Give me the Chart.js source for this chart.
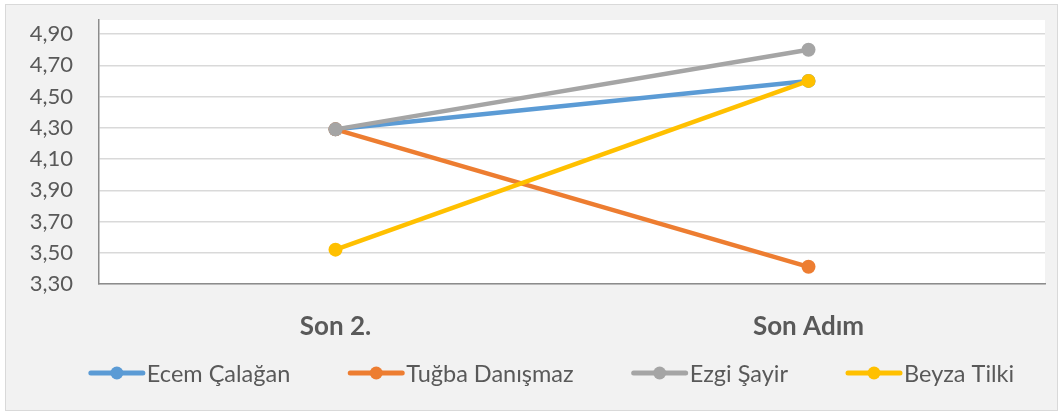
<!DOCTYPE html>
<html>
<head>
<meta charset="utf-8">
<script src="https://cdn.jsdelivr.net/npm/chart.js@4"></script>
<style>
  html, body { margin: 0; padding: 0; background: #fff; }
  #wrap { width: 1059px; height: 414px; }
</style>
</head>
<body>
<div id="wrap"><canvas id="c" width="1059" height="414"></canvas></div>
<script>
// data
const categories = ['Son 2.', 'Son Adım'];
const seriesNames = ['Ecem Çalağan', 'Tuğba Danışmaz', 'Ezgi Şayir', 'Beyza Tilki'];
const ecem = [4.29, 4.60];
const tugba = [4.29, 3.41];
const ezgi = [4.29, 4.80];
const beyza = [3.52, 4.60];
const yTicks = [3.30, 3.50, 3.70, 3.90, 4.10, 4.30, 4.50, 4.70, 4.90];

const colors = ['#5B9BD5', '#ED7D31', '#A5A5A5', '#FFC000'];
const values = [ecem, tugba, ezgi, beyza];
const textColor = '#595959';

// background frame + white plot area
const backdrop = {
  id: 'backdrop',
  beforeDraw(chart) {
    const ctx = chart.ctx;
    const a = chart.chartArea;
    ctx.save();
    ctx.fillStyle = '#ffffff';
    ctx.fillRect(0, 0, chart.width, chart.height);
    ctx.fillStyle = '#f2f2f2';
    ctx.strokeStyle = '#d9d9d9';
    ctx.lineWidth = 1;
    ctx.fillRect(5.5, 4.5, 1052, 406);
    ctx.strokeRect(5.5, 4.5, 1052, 406);
    ctx.fillStyle = '#ffffff';
    ctx.fillRect(a.left, a.top, a.right - a.left, a.bottom - a.top);
    ctx.restore();
  }
};

// excel style legend: line with a dot, then the name
const excelLegend = {
  id: 'excelLegend',
  afterDraw(chart) {
    const ctx = chart.ctx;
    ctx.save();
    ctx.font = '23.5px Lato';
    const markW = 56, gapText = 2, gapItem = 58, cy = 373;
    const widths = seriesNames.map((n) => ctx.measureText(n).width);
    const total = widths.reduce((s, w) => s + markW + gapText + w, 0) + gapItem * (seriesNames.length - 1);
    let x = 551.5 - total / 2;
    seriesNames.forEach((name, i) => {
      ctx.strokeStyle = colors[i];
      ctx.lineWidth = 5;
      ctx.lineCap = 'round';
      ctx.beginPath();
      ctx.moveTo(x + 2, cy);
      ctx.lineTo(x + markW - 2, cy);
      ctx.stroke();
      ctx.fillStyle = colors[i];
      ctx.beginPath();
      ctx.arc(x + markW / 2, cy, 6.5, 0, Math.PI * 2);
      ctx.fill();
      ctx.fillStyle = textColor;
      ctx.textBaseline = 'middle';
      ctx.textAlign = 'left';
      ctx.fillText(name, x + markW + gapText, cy + 1);
      x += markW + gapText + widths[i] + gapItem;
    });
    ctx.restore();
  }
};

new Chart(document.getElementById('c'), {
  type: 'line',
  data: {
    labels: categories,
    datasets: values.map((v, i) => ({
      label: seriesNames[i],
      data: v,
      borderColor: colors[i],
      backgroundColor: colors[i],
      borderWidth: 4.5,
      pointRadius: 7,
      pointBorderWidth: 0,
      pointHoverRadius: 7,
      order: seriesNames.length - i,
      fill: false,
      tension: 0
    }))
  },
  options: {
    responsive: false,
    animation: false,
    events: [],
    layout: { padding: { left: 5, right: 14, top: 20, bottom: 0 } },
    plugins: { legend: { display: false }, tooltip: { enabled: false } },
    scales: {
      x: {
        offset: true,
        grid: { display: false, drawTicks: false },
        border: { display: true, color: '#8c8c8c', width: 1.5 },
        ticks: {
          color: textColor,
          padding: 27,
          font: { family: 'Lato', size: 26, weight: 'bold' }
        },
        afterFit(s) { s.height = 130; s.paddingLeft = 0; s.paddingRight = 0; }
      },
      y: {
        min: 3.3,
        max: 4.99,
        afterBuildTicks(s) { s.ticks = yTicks.map((v) => ({ value: v })); },
        grid: { color: '#d9d9d9', lineWidth: 1.5, drawTicks: false },
        border: { display: true, color: '#8c8c8c', width: 1.5 },
        ticks: {
          color: textColor,
          padding: 26,
          font: { family: 'Lato', size: 22 },
          callback: (v) => Number(v).toFixed(2).replace('.', ',')
        },
        afterFit(s) { s.width = 94; s.paddingTop = 0; s.paddingBottom = 0; }
      }
    }
  },
  plugins: [backdrop, excelLegend]
});
</script>
</body>
</html>
